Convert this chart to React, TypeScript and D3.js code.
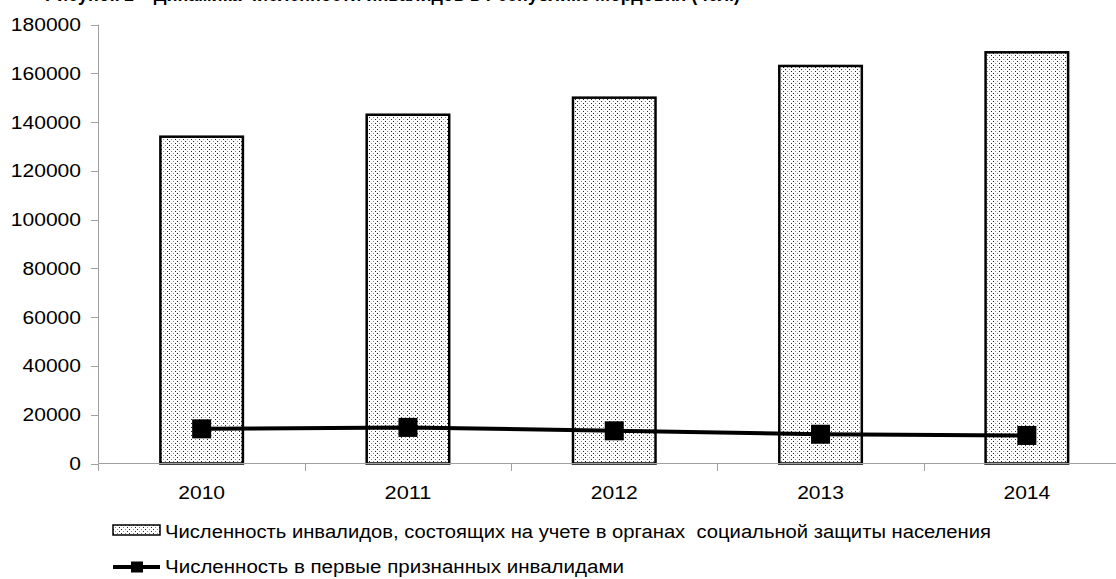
import React from "react";
import * as d3 from "d3";

const years = ["2010", "2011", "2012", "2013", "2014"];
const registered = [134000, 143000, 150000, 163000, 168600];
const firstTime = [14200, 14800, 13400, 12000, 11500];
const yTicks = [0, 20000, 40000, 60000, 80000, 100000, 120000, 140000, 160000, 180000];
const legendBar = "Численность инвалидов, состоящих на учете в органах  социальной защиты населения";
const legendLine = "Численность в первые признанных инвалидами";
const title = "Рисунок 1 – Динамика численности инвалидов в Республике Мордовия (чел.)";

const W = 1116;
const H = 579;
const FONT = "'Liberation Sans', Arial, sans-serif";

export default function App() {
  const x = d3.scaleBand<string>().domain(years).range([98.5, 1130]).paddingInner(0.6).paddingOuter(0.3);
  const y = d3.scaleLinear().domain([0, 180000]).range([463.5, 24.5]);
  const step = x.step();
  const bandStart = (d: string) => (x(d) as number) - step * 0.3;
  const cx = (d: string) => (x(d) as number) + x.bandwidth() / 2;
  const line = d3.line<number>().x((_, i) => cx(years[i])).y((v) => y(v));
  const ms = 19;

  return (
    <svg width={W} height={H} style={{ position: "absolute", left: 0, top: 0, display: "block", background: "#fff" }} fontFamily={FONT}>
      <defs>
        <pattern id="dots" width="8" height="4" patternUnits="userSpaceOnUse">
          <rect width="8" height="4" fill="#fff" />
          <rect x="1" y="1" width="1" height="1" fill="#222" />
          <rect x="5" y="1" width="1" height="1" fill="#8a8a8a" />
          <rect x="3" y="3" width="1" height="1" fill="#8a8a8a" />
          <rect x="7" y="3" width="1" height="1" fill="#222" />
        </pattern>
      </defs>
      <rect width={W} height={H} fill="#fff" />
      <text x={45} y={1} fontSize={20} fontWeight="bold" textLength={695} lengthAdjust="spacingAndGlyphs" fill="#000">{title}</text>

      {/* y axis */}
      <line x1={98.5} x2={98.5} y1={y(180000)} y2={y(0)} stroke="#a0a0a0" strokeWidth={1} />
      {yTicks.map((t) => {
        const label = String(t);
        const len = label.length * 11.7;
        return (
          <g key={t}>
            <line x1={91} x2={98.5} y1={Math.round(y(t)) + 0.5} y2={Math.round(y(t)) + 0.5} stroke="#a0a0a0" />
            <text x={81 - len} y={y(t)} dy="0.36em" fontSize={18} textLength={len} lengthAdjust="spacingAndGlyphs" fill="#000">{label}</text>
          </g>
        );
      })}

      {/* bars */}
      {years.map((d, i) => (
        <rect key={d} x={x(d)} y={y(registered[i])} width={x.bandwidth()} height={y(0) - y(registered[i])} fill="url(#dots)" stroke="#000" strokeWidth={2.5} />
      ))}

      {/* x axis */}
      <line x1={98.5} x2={W} y1={463.5} y2={463.5} stroke="#a0a0a0" strokeWidth={1} />
      {years.map((d) => (
        <line key={"t" + d} x1={Math.round(bandStart(d)) + 0.5} x2={Math.round(bandStart(d)) + 0.5} y1={463.5} y2={471} stroke="#a0a0a0" />
      ))}
      {years.map((d) => (
        <text key={"l" + d} x={cx(d) - 23.4} y={498.5} fontSize={18} textLength={46.8} lengthAdjust="spacingAndGlyphs" fill="#000">{d}</text>
      ))}

      {/* line series */}
      <path d={line(firstTime) as string} fill="none" stroke="#000" strokeWidth={4} />
      {years.map((d, i) => (
        <rect key={"m" + d} x={cx(d) - ms / 2} y={y(firstTime[i]) - ms / 2} width={ms} height={ms} fill="#000" />
      ))}

      {/* legend */}
      <rect x={113} y={525} width={47} height={10} fill="url(#dots)" stroke="#000" strokeWidth={1.5} />
      <text x={165} y={538} fontSize={18} textLength={826} lengthAdjust="spacingAndGlyphs" fill="#000" style={{ whiteSpace: "pre" }}>{legendBar}</text>
      <line x1={113} x2={160} y1={567} y2={567} stroke="#000" strokeWidth={4} />
      <rect x={131} y={561.5} width={12} height={11} fill="#000" />
      <text x={165} y={573} fontSize={18} textLength={459} lengthAdjust="spacingAndGlyphs" fill="#000">{legendLine}</text>
    </svg>
  );
}
